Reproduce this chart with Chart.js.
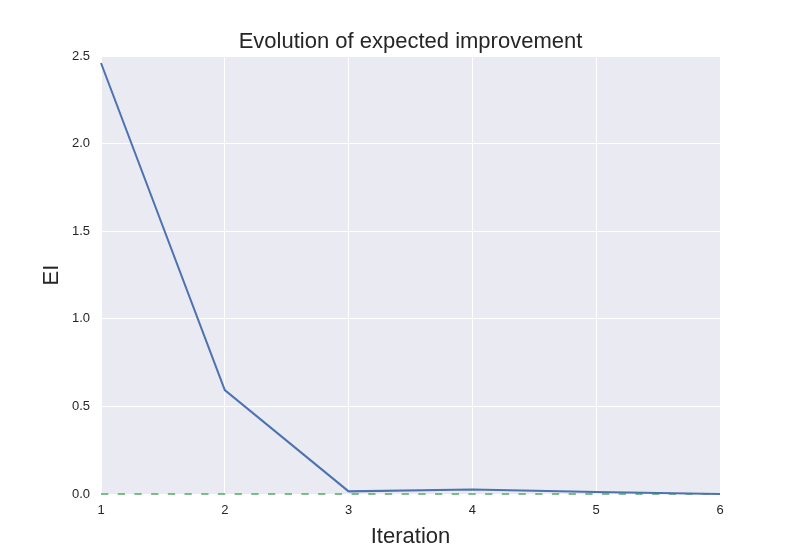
<!DOCTYPE html>
<html>
<head>
<meta charset="utf-8">
<script src="https://cdn.jsdelivr.net/npm/chart.js@4/dist/chart.umd.min.js"></script>
<style>
html,body{margin:0;padding:0;background:#fff;}
#wrap{width:800px;height:550px;}
</style>
</head>
<body>
<div id="wrap"><canvas id="c" width="800" height="550"></canvas></div>
<script>
const iterations = [1, 2, 3, 4, 5, 6];
const eiValues = [2.46, 0.593, 0.015, 0.025, 0.012, 0.0];
const zeroLine = [0, 0];
const yTicks = [0.0, 0.5, 1.0, 1.5, 2.0, 2.5];
const chartTitle = 'Evolution of expected improvement';

const font = "'Liberation Sans', Arial, sans-serif";
Chart.defaults.font.family = font;
Chart.defaults.color = '#262626';

const bgPlugin = {
  id: 'bg',
  beforeDraw(chart) {
    const {ctx, chartArea: a} = chart;
    ctx.save();
    ctx.fillStyle = '#EAEAF2';
    ctx.fillRect(a.left, a.top, a.right - a.left, a.bottom - a.top);
    ctx.restore();
  },
  afterDraw(chart) {
    const {ctx, chartArea: a} = chart;
    ctx.save();
    ctx.fillStyle = '#262626';
    ctx.font = "22px " + font;
    ctx.textAlign = 'center';
    ctx.textBaseline = 'alphabetic';
    ctx.fillText(chartTitle, (a.left + a.right) / 2, 48);
    ctx.restore();
  }
};

new Chart(document.getElementById('c'), {
  type: 'line',
  data: {
    datasets: [
      {
        label: 'EI',
        data: iterations.map((x, i) => ({x: x, y: eiValues[i]})),
        borderColor: '#4C72B0',
        borderWidth: 2,
        pointRadius: 0,
        tension: 0,
        fill: false,
        clip: false,
        order: 1
      },
      {
        label: 'zero',
        data: [{x: iterations[0], y: zeroLine[0]}, {x: iterations[iterations.length - 1], y: zeroLine[1]}],
        borderColor: '#55A868',
        borderWidth: 1.5,
        borderDash: [7.3, 9.4],
        pointRadius: 0,
        fill: false,
        clip: false,
        order: 2
      }
    ]
  },
  options: {
    responsive: false,
    animation: false,
    layout: {padding: {left: 0, right: 80, top: 56, bottom: 0}},
    plugins: {
      legend: {display: false},
      tooltip: {enabled: false},
      title: {display: false}
    },
    scales: {
      x: {
        type: 'linear',
        min: 1, max: 6,
        afterFit(s) { s.height = 56; },
        grid: {color: '#FFFFFF', lineWidth: 1, drawTicks: false},
        border: {display: false},
        ticks: {stepSize: 1, padding: 9, font: {size: 13}, color: '#262626',
          callback: v => String(v)},
        title: {display: true, text: 'Iteration', font: {size: 22, family: font}, color: '#262626', padding: {top: 4, bottom: 0}}
      },
      y: {
        type: 'linear',
        min: 0, max: 2.5,
        afterFit(s) { s.width = 101; },
        afterBuildTicks(s) { s.ticks = yTicks.map(v => ({value: v})); },
        grid: {color: '#FFFFFF', lineWidth: 1, drawTicks: false},
        border: {display: false},
        ticks: {padding: 11, font: {size: 13}, color: '#262626',
          callback: v => Number(v).toFixed(1)},
        title: {display: true, text: 'EI', font: {size: 22, family: font}, color: '#262626', padding: {top: 39, bottom: 0}}
      }
    }
  },
  plugins: [bgPlugin]
});
</script>
</body>
</html>
